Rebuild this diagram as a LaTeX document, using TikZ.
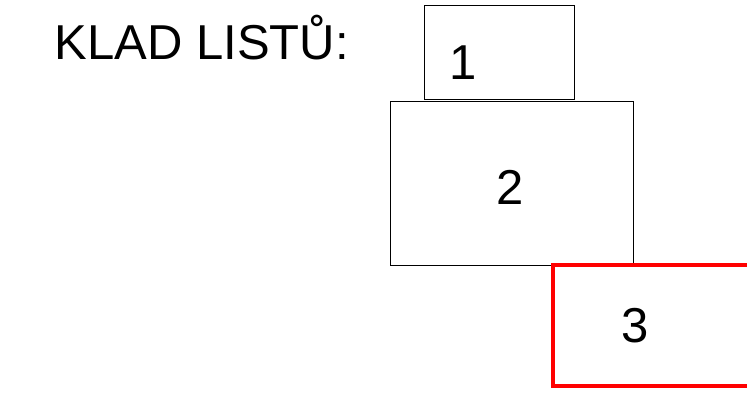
\documentclass[tikz,border=0pt]{standalone}
\usepackage{fontspec}
\setmainfont{Liberation Sans}
\usetikzlibrary{positioning}

\begin{document}
\begin{tikzpicture}[x=1pt,y=1pt,
    list/.style={draw,line width=0.8pt,minimum width=#1},
    cislo/.style={font=\fontsize{49}{49}\selectfont,inner sep=0pt,anchor=base}]
\useasboundingbox (0,0) rectangle (747,393);
\clip (0,0) rectangle (747,393);
\node [cislo,anchor=base west] (nadpis) at (54.5,333) {KLAD LISTŮ:};
\node [list=150pt,minimum height=94pt] (list1) at (499.5,340.5) {};
\node [list=242.5pt,minimum height=164pt] (list2) at (511.75,210) {};
\node [list=199pt,minimum height=121.5pt,draw=red,line width=4pt] (list3) at (652.5,67.25) {};
\node [cislo] (c1) at (463,313) {1};
\node [cislo] (c2) at (510,188) {2};
\node [cislo] (c3) at (635.5,50) {3};
\end{tikzpicture}
\end{document}
